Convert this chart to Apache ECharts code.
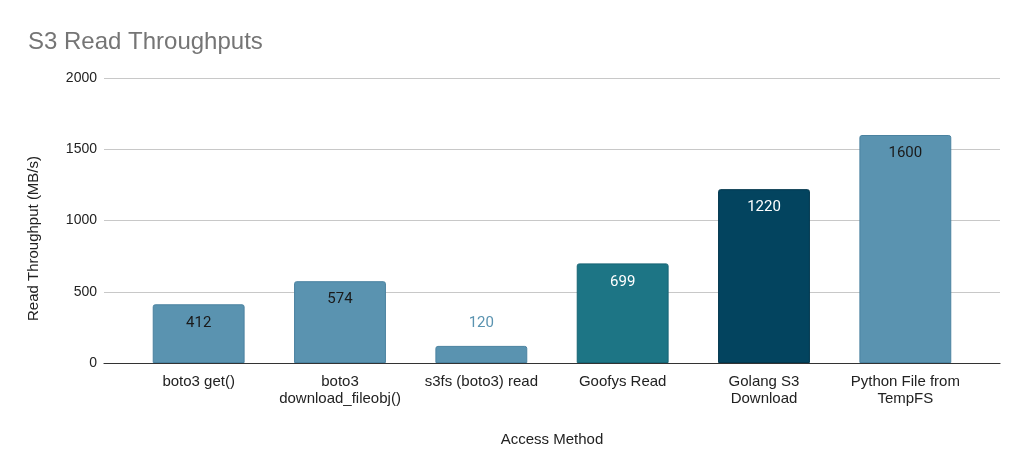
<!DOCTYPE html>
<html>
<head>
<meta charset="utf-8">
<title>S3 Read Throughputs</title>
<script src="https://cdn.jsdelivr.net/npm/echarts@6/dist/echarts.min.js"></script>
<style>
  html, body { margin: 0; padding: 0; background: #fff; }
  #chart { width: 1024px; height: 471px; }
</style>
</head>
<body>
<div id="chart"></div>
<script>
// Chart data
const methods = [
    'boto3 get()',
    'boto3\ndownload_fileobj()',
    's3fs (boto3) read',
    'Goofys Read',
    'Golang S3\nDownload',
    'Python File from\nTempFS'
];
const throughputs = [412, 574, 120, 699, 1220, 1600];
const yTicks = [0, 500, 1000, 1500, 2000];

// Bar colours (style only)
const barColors = ['#5a93b0', '#5a93b0', '#5a93b0', '#1d7585', '#03445f', '#5a93b0'];
const borderColors = ['#4a82a0', '#4a82a0', '#4a82a0', '#166474', '#02374d', '#4a82a0'];
const labelColors = ['#1a1a1a', '#1a1a1a', '#5a93b0', '#ffffff', '#ffffff', '#1a1a1a'];

const chart = echarts.init(document.getElementById('chart'));

const yMin = yTicks[0];
const yMax = yTicks[yTicks.length - 1];
const yStep = yTicks[1] - yTicks[0];

// Build bar items: short bars get their label above the bar
const barData = throughputs.map((v, i) => ({
    value: v,
    itemStyle: { color: barColors[i], borderColor: borderColors[i] },
    label: v < 200
        ? { position: 'top', distance: 15, color: labelColors[i] }
        : { position: 'insideTop', distance: 11, color: labelColors[i] }
}));

const options = {
    animation: false,
    textStyle: { fontFamily: 'Liberation Sans, Arial, sans-serif' },
    title: {
        text: 'S3 Read Throughputs',
        left: 23,
        top: 25,
        textStyle: {
            fontFamily: 'Liberation Sans, Arial, sans-serif',
            fontSize: 24,
            fontWeight: 'normal',
            color: '#757575'
        }
    },
    grid: [
        // full-width grid for gridlines and baseline
        { left: 104, right: 24, top: 78, bottom: 108 },
        // inset grid where the bars live
        { left: 128, right: 48, top: 78, bottom: 108 }
    ],
    xAxis: [
        {
            gridIndex: 0,
            type: 'value',
            min: 0,
            max: 1,
            axisLine: { show: true, onZero: false, lineStyle: { color: '#333', width: 1.2 } },
            axisTick: { show: false },
            axisLabel: { show: false },
            splitLine: { show: false }
        },
        {
            gridIndex: 1,
            type: 'category',
            data: methods,
            axisLine: { show: false },
            axisTick: { show: false },
            axisLabel: {
                color: '#222',
                fontSize: 15,
                lineHeight: 17,
                margin: 10,
                interval: 0
            },
            name: 'Access Method',
            nameLocation: 'middle',
            nameGap: 69,
            nameTextStyle: { color: '#222', fontSize: 15 }
        }
    ],
    yAxis: [
        {
            gridIndex: 0,
            type: 'value',
            min: yMin,
            max: yMax,
            interval: yStep,
            axisLine: { show: false },
            axisTick: { show: false },
            axisLabel: {
                color: '#222',
                fontSize: 14,
                margin: 7,
                formatter: v => String(v)
            },
            splitLine: { lineStyle: { color: '#c8c8c8', width: 1 } },
            name: 'Read Throughput (MB/s)',
            nameLocation: 'middle',
            nameGap: 63,
            nameTextStyle: { color: '#222', fontSize: 15, padding: [0, 36, 0, 0] }
        },
        {
            gridIndex: 1,
            type: 'value',
            min: yMin,
            max: yMax,
            interval: yStep,
            show: false,
            splitLine: { show: false }
        }
    ],
    series: [
        {
            name: 'Read Throughput',
            type: 'bar',
            xAxisIndex: 1,
            yAxisIndex: 1,
            barCategoryGap: '35%',
            itemStyle: { borderWidth: 1, borderRadius: [2, 2, 0, 0] },
            label: {
                show: true,
                fontFamily: 'Roboto, sans-serif',
                fontSize: 15
            },
            data: barData
        }
    ]
};

chart.setOption(options);
</script>
</body>
</html>
